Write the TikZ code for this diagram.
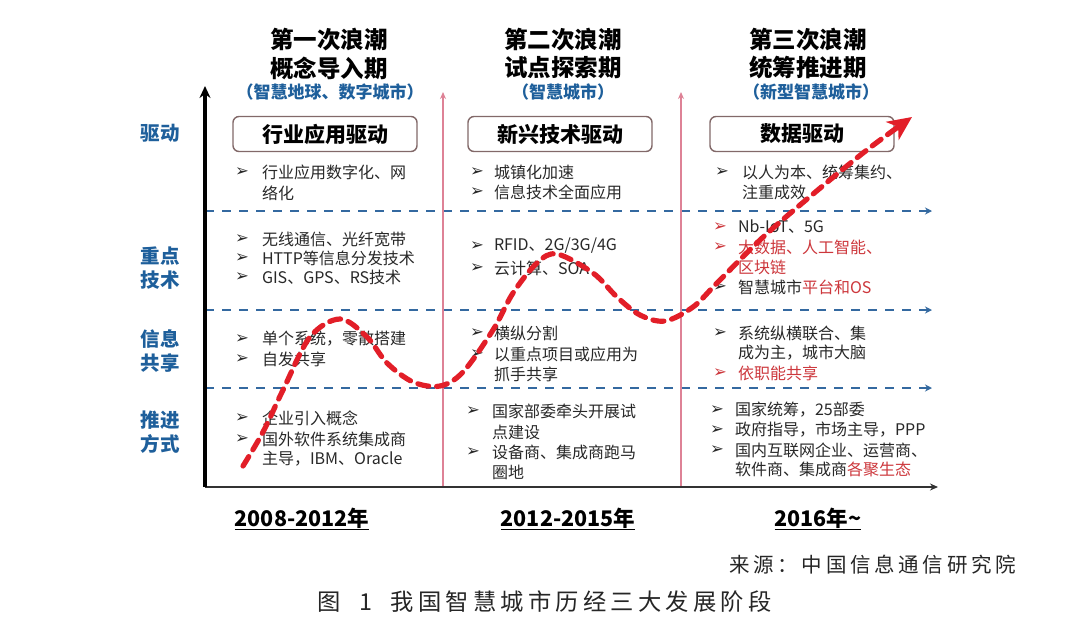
\documentclass[tikz,border=0pt]{standalone}
\usepackage{fontspec}
\setmainfont{Noto Sans CJK SC}
\newfontfamily\symf{DejaVu Sans}
\newfontfamily\spaced{Noto Sans CJK SC}[LetterSpace=18]
\usetikzlibrary{arrows.meta}
\definecolor{axblue}{RGB}{52,105,160}
\definecolor{lblblue}{RGB}{30,95,155}
\definecolor{wavered}{RGB}{226,30,40}
\definecolor{txtred}{RGB}{205,55,60}
\definecolor{pinkline}{RGB}{222,130,150}
\definecolor{boxline}{RGB}{130,105,105}
\definecolor{txtgray}{RGB}{40,40,40}
\begin{document}
\begin{tikzpicture}[x=1pt,y=-1pt,
  every node/.style={inner sep=0pt,outer sep=0pt},
  txt/.style={anchor=west,font=\fontsize{16}{17}\selectfont,text=txtgray},
  rtxt/.style={txt,text=txtred},
  bul/.style={anchor=west,font=\symf\fontsize{16.5}{16.5}\selectfont,text=txtgray},
  rbul/.style={bul,text=txtred},
  head/.style={font=\bfseries\fontsize{23.5}{24}\selectfont,text=black},
  subhead/.style={font=\bfseries\fontsize{17}{18}\selectfont,text=lblblue},
  drvbox/.style={draw=boxline,line width=1.4pt,rounded corners=6pt,fill=white,
    minimum width=184pt,minimum height=35pt,font=\bfseries\fontsize{21}{22}\selectfont},
  rowlbl/.style={font=\bfseries\fontsize{19.5}{20}\selectfont,text=lblblue},
  year/.style={font=\bfseries\fontsize{21.5}{22}\selectfont,text=black},
  yaxis/.style={line width=4pt,-{Stealth[length=12pt,width=11pt]}},
  xaxis/.style={line width=2pt,draw=black!80,-{Stealth[length=8pt,width=7pt]}},
  gridline/.style={axblue,line width=2.4pt,dash pattern=on 9pt off 8pt,-{Stealth[length=7pt,width=7pt]}},
  eraline/.style={pinkline,line width=1.6pt,-{Stealth[length=7pt,width=6pt]}},
  wave/.style={wavered,line width=5.2pt,dash pattern=on 11pt off 8pt,
    -{Stealth[length=24pt,width=22pt,inset=7pt]}}
]
\useasboundingbox (0,0) rectangle (1080,630);
\fill[white] (0,0) rectangle (1080,630);

% axes and grid
\coordinate (O) at (205,487);
\coordinate (ytop) at (205,86);
\coordinate (xend) at (938,487);
\coordinate (d1s) at (205,211); \coordinate (d1e) at (932,211);
\coordinate (d2s) at (205,310); \coordinate (d2e) at (932,310);
\coordinate (d3s) at (205,388); \coordinate (d3e) at (932,388);
\coordinate (v1s) at (443,487); \coordinate (v1e) at (443,92);
\coordinate (v2s) at (681,487); \coordinate (v2e) at (681,92);
\draw[gridline] (d1s) -- (d1e);
\draw[gridline] (d2s) -- (d2e);
\draw[gridline] (d3s) -- (d3e);
\draw[eraline] (v1s) -- (v1e);
\draw[eraline] (v2s) -- (v2e);
\draw[xaxis] (O) -- (xend);
\draw[yaxis] (O) -- (ytop);

% row labels
\node[rowlbl] (l1) at (160,133) {驱动};
\node[rowlbl] (l2a) at (160,256) {重点};
\node[rowlbl] (l2b) at (160,280) {技术};
\node[rowlbl] (l3a) at (160,339) {信息};
\node[rowlbl] (l3b) at (160,363) {共享};
\node[rowlbl] (l4a) at (160,420) {推进};
\node[rowlbl] (l4b) at (160,444) {方式};

% headers
\node[head] (h1a) at (329,40) {第一次浪潮};
\node[head] (h1b) at (329,68) {概念导入期};
\node[subhead] (h1c) at (330,92) {（智慧地球、数字城市）};
\node[head] (h2a) at (563,40) {第二次浪潮};
\node[head] (h2b) at (563,68) {试点探索期};
\node[subhead] (h2c) at (563,92) {（智慧城市）};
\node[head] (h3a) at (808,40) {第三次浪潮};
\node[head] (h3b) at (808,68) {统筹推进期};
\node[subhead] (h3c) at (811,92) {（新型智慧城市）};

% driver boxes
\node[drvbox] (b1) at (325,134) {行业应用驱动};
\node[drvbox] (b2) at (560,134) {新兴技术驱动};
\node[drvbox] (b3) at (802,134) {数据驱动};

% column 1
\node[bul] (p11) at (235,172) {➢}; \node[txt] (t11a) at (262,172) {行业应用数字化、网};
\node[txt] (t11b) at (262,193) {络化};
\node[bul] (p12) at (235,239) {➢}; \node[txt] (t12) at (262,239) {无线通信、光纤宽带};
\node[bul] (p13) at (235,258) {➢}; \node[txt] (t13) at (262,258) {HTTP等信息分发技术};
\node[bul] (p14) at (235,277) {➢}; \node[txt] (t14) at (262,277) {GIS、GPS、RS技术};
\node[bul] (p15) at (235,339) {➢}; \node[txt] (t15) at (262,339) {单个系统，零散搭建};
\node[bul] (p16) at (235,359) {➢}; \node[txt] (t16) at (262,359) {自发共享};
\node[bul] (p17) at (235,418) {➢}; \node[txt] (t17) at (262,418) {企业引入概念};
\node[bul] (p18) at (235,439) {➢}; \node[txt] (t18a) at (262,439) {国外软件系统集成商};
\node[txt] (t18b) at (262,459) {主导，IBM、Oracle};

% column 2
\node[bul] (p21) at (470,172) {➢}; \node[txt] (t21) at (494,172) {城镇化加速};
\node[bul] (p22) at (470,192) {➢}; \node[txt] (t22) at (494,192) {信息技术全面应用};
\node[bul] (p23) at (470,246) {➢}; \node[txt] (t23) at (494,246) {RFID、2G/3G/4G};
\node[bul] (p24) at (470,268) {➢}; \node[txt] (t24) at (494,268) {云计算、SOA};
\node[bul] (p25) at (470,333) {➢}; \node[txt] (t25) at (494,333) {横纵分割};
\node[bul] (p26) at (470,354) {➢}; \node[txt] (t26a) at (494,354) {以重点项目或应用为};
\node[txt] (t26b) at (494,374) {抓手共享};
\node[bul] (p27) at (466,411) {➢}; \node[txt] (t27a) at (492,411) {国家部委牵头开展试};
\node[txt] (t27b) at (492,432) {点建设};
\node[bul] (p28) at (466,452) {➢}; \node[txt] (t28a) at (492,452) {设备商、集成商跑马};
\node[txt] (t28b) at (492,472) {圈地};

% column 3
\node[bul] (p31) at (715,172) {➢}; \node[txt] (t31a) at (742,172) {以人为本、统筹集约、};
\node[txt] (t31b) at (742,192) {注重成效};
\node[rbul] (p32) at (713,227) {➢}; \node[txt] (t32) at (738,227) {Nb-IoT、5G};
\node[rbul] (p33) at (713,247) {➢}; \node[rtxt] (t33a) at (738,247) {大数据、人工智能、};
\node[rtxt] (t33b) at (738,267) {区块链};
\node[bul] (p34) at (713,287) {➢}; \node[txt] (t34) at (738,287) {智慧城市\textcolor{txtred}{平台和OS}};
\node[bul] (p35) at (713,333) {➢}; \node[txt] (t35a) at (738,333) {系统纵横联合、集};
\node[txt] (t35b) at (738,353) {成为主，城市大脑};
\node[rbul] (p36) at (713,373) {➢}; \node[rtxt] (t36) at (738,373) {依职能共享};
\node[bul] (p37) at (710,410) {➢}; \node[txt] (t37) at (735,410) {国家统筹，25部委};
\node[bul] (p38) at (710,430) {➢}; \node[txt] (t38) at (735,430) {政府指导，市场主导，PPP};
\node[bul] (p39) at (710,450) {➢}; \node[txt] (t39a) at (735,450) {国内互联网企业、运营商、};
\node[txt] (t39b) at (735,469) {软件商、集成商\textcolor{txtred}{各聚生态}};

% wave
\draw[wave,line cap=round] plot[smooth,tension=0.55] coordinates{(243,466) (263,432) (283,390) (310,337) (340,319) (367,337) (387,363) (413,382) (440,386) (463,372) (493,330) (513,293) (537,263) (557,254) (593,273) (617,297) (640,315) (665,321) (693,307) (717,283) (760,240) (800,205) (863,153) (912,117)};

% years
\node[year] (y1) at (302,519) {\underline{2008-2012年}};
\node[year] (y2) at (568,519) {\underline{2012-2015年}};
\node[year] (y3) at (818,519) {\underline{2016年\textasciitilde}};

% source and caption
\node[anchor=east,font=\spaced\fontsize{20.5}{21}\selectfont,text=black!85] (src) at (1016,565) {来源：中国信息通信研究院};
\node[anchor=west,font=\spaced\fontsize{23.3}{25}\selectfont,text=black!85] (cap) at (317,602) {图\ \ 1\ \ 我国智慧城市历经三大发展阶段};
\end{tikzpicture}
\end{document}
